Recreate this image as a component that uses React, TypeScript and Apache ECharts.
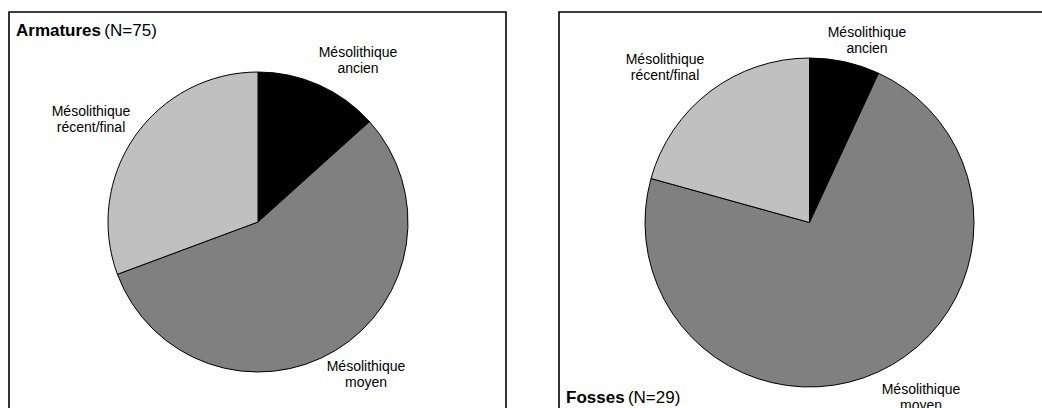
import React, { useEffect, useRef } from "react";
import * as echarts from "echarts";

const categories = ["Mésolithique ancien", "Mésolithique moyen", "Mésolithique récent/final"];
const armaturesValues = [10, 42, 23];
const fossesValues = [2, 21, 6];
const armaturesTitle = "Armatures";
const armaturesN = "(N=75)";
const fossesTitle = "Fosses";
const fossesN = "(N=29)";
const sliceColors = ["#000000", "#808080", "#c0c0c0"];

const FONT = "'Liberation Sans', Arial, sans-serif";

const leftLabelPos = [
  [358, 60],
  [366, 374],
  [91, 119],
];
const rightLabelPos = [
  [867, 40],
  [921, 397],
  [665, 67],
];

export default function App() {
  const ref = useRef<HTMLDivElement>(null);
  useEffect(() => {
    if (!ref.current) return;
    const chart = echarts.init(ref.current, undefined, { renderer: "svg" });
    const mkData = (vals: number[]) =>
      categories.map((c, i) => ({
        name: c,
        value: vals[i],
        itemStyle: { color: sliceColors[i] },
      }));
    const mkSeries = (vals: number[], center: number[], r: number, pos: number[][]) => ({
      type: "pie",
      center,
      radius: r,
      startAngle: 90,
      clockwise: true,
      avoidLabelOverlap: false,
      data: mkData(vals),
      itemStyle: { borderColor: "#000", borderWidth: 1 },
      emphasis: { disabled: true },
      label: {
        show: true,
        position: "outside",
        formatter: (p: any) => p.name.replace(" ", "\n"),
        color: "#000",
        fontFamily: FONT,
        fontSize: 14,
        lineHeight: 16,
        align: "center",
      },
      labelLine: { show: false },
      labelLayout: (params: any) => ({
        x: pos[params.dataIndex][0],
        y: pos[params.dataIndex][1],
        align: "center",
        verticalAlign: "middle",
        hideOverlap: false,
      }),
    });
    const titleRich = {
      b: { fontWeight: "bold", fontSize: 17, fontFamily: FONT, fill: "#000" },
      n: { fontSize: 17, fontFamily: FONT, fill: "#000" },
    };
    chart.setOption({
      animation: false,
      backgroundColor: "#fff",
      series: [
        mkSeries(armaturesValues, [258, 222], 150, leftLabelPos),
        mkSeries(fossesValues, [809.5, 222.5], 164.5, rightLabelPos),
      ],
      graphic: [
        {
          type: "polyline",
          shape: { points: [[9, 420], [9, 12], [506, 12], [506, 420]] },
          style: { stroke: "#000", lineWidth: 1.6, fill: "none" },
          silent: true,
        },
        {
          type: "polyline",
          shape: { points: [[559, 420], [559, 12], [1050, 12]] },
          style: { stroke: "#000", lineWidth: 1.6, fill: "none" },
          silent: true,
        },
        {
          type: "text",
          left: 16,
          top: 22,
          style: { text: `{b|${armaturesTitle}} {n|${armaturesN}}`, rich: titleRich },
        },
        {
          type: "text",
          left: 566,
          top: 389,
          style: { text: `{b|${fossesTitle}} {n|${fossesN}}`, rich: titleRich },
        },
      ],
    });
    return () => chart.dispose();
  }, []);
  return (
    <div
      ref={ref}
      style={{ position: "absolute", left: 0, top: 0, width: 1042, height: 408 }}
    />
  );
}
